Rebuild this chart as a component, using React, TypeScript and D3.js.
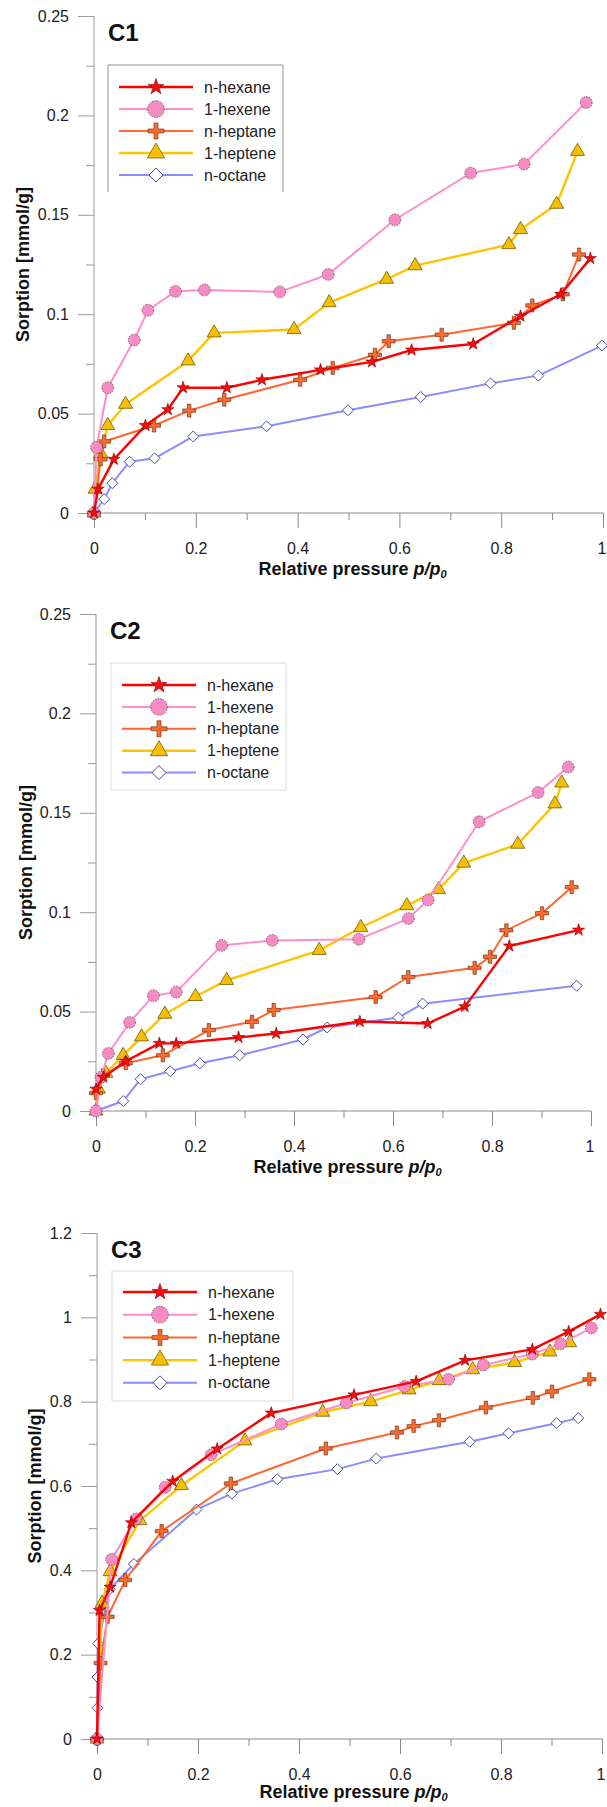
import React, { useEffect, useRef } from 'react';
import * as d3 from 'd3';

// Nomi delle serie (ordine della legenda)
const seriesNames = ['n-hexane', '1-hexene', 'n-heptane', '1-heptene', 'n-octane'];

// Pannello C1
const c1HexaneX = [0, 0.008, 0.039, 0.101, 0.145, 0.175, 0.261, 0.33, 0.445, 0.546, 0.624, 0.745, 0.838, 0.917, 0.975];
const c1HexaneY = [0, 0.012, 0.027, 0.044, 0.052, 0.063, 0.063, 0.067, 0.072, 0.076, 0.082, 0.085, 0.099, 0.11, 0.128];
const c1HexeneX = [0, 0.005, 0.027, 0.079, 0.106, 0.16, 0.217, 0.365, 0.46, 0.591, 0.74, 0.845, 0.967];
const c1HexeneY = [0, 0.033, 0.063, 0.087, 0.102, 0.1115, 0.1122, 0.1112, 0.12, 0.1475, 0.171, 0.1755, 0.2065];
const c1HeptaneX = [0, 0.013, 0.02, 0.118, 0.187, 0.256, 0.405, 0.469, 0.552, 0.579, 0.683, 0.825, 0.861, 0.921, 0.953];
const c1HeptaneY = [0, 0.027, 0.036, 0.044, 0.0515, 0.057, 0.067, 0.073, 0.0796, 0.0864, 0.0897, 0.0957, 0.1044, 0.11, 0.13];
const c1HepteneX = [0, 0.002, 0.013, 0.027, 0.062, 0.185, 0.236, 0.393, 0.462, 0.575, 0.631, 0.815, 0.838, 0.909, 0.95];
const c1HepteneY = [0, 0.012, 0.03, 0.044, 0.0547, 0.0765, 0.0906, 0.0923, 0.1058, 0.1176, 0.1244, 0.135, 0.1426, 0.1553, 0.1819];
const c1OctaneX = [0, 0.02, 0.036, 0.07, 0.119, 0.195, 0.339, 0.499, 0.642, 0.779, 0.873, 0.998];
const c1OctaneY = [0, 0.007, 0.015, 0.0258, 0.0275, 0.0385, 0.0436, 0.0517, 0.0584, 0.0652, 0.0691, 0.0842];

// Pannello C2
const c2HexaneX = [0, 0.015, 0.06, 0.128, 0.162, 0.288, 0.364, 0.533, 0.67, 0.745, 0.835, 0.975];
const c2HexaneY = [0.011, 0.017, 0.025, 0.034, 0.034, 0.037, 0.039, 0.045, 0.044, 0.0525, 0.083, 0.091];
const c2HexeneX = [0, 0.01, 0.025, 0.068, 0.116, 0.162, 0.254, 0.356, 0.531, 0.631, 0.671, 0.774, 0.893, 0.954];
const c2HexeneY = [0, 0.017, 0.029, 0.0446, 0.058, 0.0598, 0.0833, 0.0858, 0.0864, 0.0968, 0.1061, 0.1455, 0.1602, 0.173];
const c2HeptaneX = [0, 0.014, 0.06, 0.135, 0.228, 0.315, 0.359, 0.565, 0.631, 0.765, 0.796, 0.829, 0.901, 0.961];
const c2HeptaneY = [0.009, 0.018, 0.024, 0.028, 0.0407, 0.0449, 0.0508, 0.0573, 0.0674, 0.072, 0.0776, 0.0909, 0.0995, 0.1126];
const c2HepteneX = [0, 0.005, 0.02, 0.055, 0.092, 0.139, 0.201, 0.264, 0.451, 0.535, 0.628, 0.692, 0.743, 0.852, 0.927, 0.941];
const c2HepteneY = [0, 0.011, 0.019, 0.028, 0.0373, 0.0487, 0.0576, 0.0657, 0.0808, 0.0923, 0.1033, 0.1114, 0.1247, 0.1342, 0.1545, 0.165];
const c2OctaneX = [0, 0.055, 0.09, 0.15, 0.21, 0.29, 0.418, 0.467, 0.611, 0.66, 0.971];
const c2OctaneY = [0, 0.005, 0.016, 0.02, 0.024, 0.028, 0.036, 0.042, 0.047, 0.054, 0.063];

// Pannello C3
const c3HexaneX = [0, 0.005, 0.026, 0.068, 0.15, 0.238, 0.345, 0.509, 0.632, 0.729, 0.862, 0.934, 0.997];
const c3HexaneY = [0, 0.305, 0.36, 0.513, 0.611, 0.688, 0.773, 0.816, 0.848, 0.898, 0.924, 0.966, 1.007];
const c3HexeneX = [0, 0.029, 0.077, 0.135, 0.226, 0.365, 0.494, 0.609, 0.696, 0.765, 0.862, 0.918, 0.979];
const c3HexeneY = [0, 0.426, 0.522, 0.597, 0.674, 0.747, 0.797, 0.836, 0.853, 0.887, 0.913, 0.937, 0.975];
const c3HeptaneX = [0, 0.007, 0.021, 0.056, 0.128, 0.265, 0.453, 0.594, 0.627, 0.677, 0.77, 0.863, 0.901, 0.975];
const c3HeptaneY = [0, 0.18, 0.29, 0.377, 0.493, 0.606, 0.689, 0.727, 0.742, 0.756, 0.786, 0.809, 0.824, 0.853];
const c3HepteneX = [0, 0.01, 0.026, 0.085, 0.167, 0.293, 0.447, 0.542, 0.618, 0.678, 0.744, 0.827, 0.897, 0.936];
const c3HepteneY = [0, 0.322, 0.397, 0.518, 0.601, 0.707, 0.775, 0.8, 0.828, 0.85, 0.876, 0.893, 0.918, 0.94];
const c3OctaneX = [0, 0.001, 0.001, 0.002, 0.025, 0.073, 0.197, 0.267, 0.357, 0.476, 0.553, 0.738, 0.815, 0.91, 0.953];
const c3OctaneY = [0, 0.074, 0.147, 0.226, 0.355, 0.415, 0.544, 0.582, 0.616, 0.64, 0.665, 0.705, 0.725, 0.749, 0.761];

// Tacche
const xTicks = [0, 0.2, 0.4, 0.6, 0.8, 1];
const xMinor = [0.1, 0.3, 0.5, 0.7, 0.9];
const yTicksLow = [0, 0.05, 0.1, 0.15, 0.2, 0.25];
const yMinorLow = [0.025, 0.075, 0.125, 0.175, 0.225];
const yTicksHigh = [0, 0.2, 0.4, 0.6, 0.8, 1, 1.2];
const yMinorHigh = [0.1, 0.3, 0.5, 0.7, 0.9, 1.1];

const panelData = [
  { label: 'C1', yMax: 0.25, yTicks: yTicksLow, yMinor: yMinorLow,
    series: [[c1HexaneX, c1HexaneY], [c1HexeneX, c1HexeneY], [c1HeptaneX, c1HeptaneY], [c1HepteneX, c1HepteneY], [c1OctaneX, c1OctaneY]] },
  { label: 'C2', yMax: 0.25, yTicks: yTicksLow, yMinor: yMinorLow,
    series: [[c2HexaneX, c2HexaneY], [c2HexeneX, c2HexeneY], [c2HeptaneX, c2HeptaneY], [c2HepteneX, c2HepteneY], [c2OctaneX, c2OctaneY]] },
  { label: 'C3', yMax: 1.2, yTicks: yTicksHigh, yMinor: yMinorHigh,
    series: [[c3HexaneX, c3HexaneY], [c3HexeneX, c3HexeneY], [c3HeptaneX, c3HeptaneY], [c3HepteneX, c3HepteneY], [c3OctaneX, c3OctaneY]] },
];

// Posizioni dei pannelli (pixel)
const frames = [
  { left: 94, right: 603, top: 16, bottom: 513, yTitleX: 23, xTitleDy: 62,
    legend: { x: 108, y: 65, w: 175, h: 127, first: 22, step: 22, border: '#8f8f8f', open: true } },
  { left: 96, right: 591, top: 614, bottom: 1111, yTitleX: 26, xTitleDy: 62,
    legend: { x: 111, y: 663, w: 175, h: 127, first: 22, step: 21.9, border: '#dddddd', open: false } },
  { left: 97, right: 602, top: 1233, bottom: 1739, yTitleX: 35, xTitleDy: 59,
    legend: { x: 112, y: 1271, w: 181, h: 130, first: 21, step: 22.7, border: '#dddddd', open: false } },
];

// Stili delle serie
const seriesStyles = [
  { kind: 'star', line: '#ff0000', width: 2.4, fill: '#ff0a0a', stroke: '#7a0000', sw: 0.6, dash: '' },
  { kind: 'circle', line: '#ff8fc8', width: 2, fill: '#f78bc3', stroke: '#6e4358', sw: 0.8, dash: '1.5,1.2' },
  { kind: 'plus', line: '#ff6633', width: 2, fill: '#ff6b2c', stroke: '#5b2a12', sw: 0.6, dash: '' },
  { kind: 'triangle', line: '#ffc400', width: 2.4, fill: '#f6c000', stroke: '#5e4a00', sw: 0.7, dash: '' },
  { kind: 'diamond', line: '#8c8cff', width: 2, fill: '#ffffff', stroke: '#4c4ca8', sw: 1, dash: '' },
];

const FONT = "'Liberation Sans', Arial, Helvetica, sans-serif";

const markerPath = (kind: string, big: boolean): string => {
  switch (kind) {
    case 'star':
      return d3.symbol(d3.symbolStar, big ? 80 : 46)() || '';
    case 'circle':
      return d3.symbol(d3.symbolCircle, big ? 220 : 110)() || '';
    case 'plus': {
      const s = big ? 8 : 6.5;
      const t = big ? 2 : 1.7;
      return `M${-t},${-s}H${t}V${-t}H${s}V${t}H${t}V${s}H${-t}V${t}H${-s}V${-t}H${-t}Z`;
    }
    case 'triangle':
      return d3.symbol(d3.symbolTriangle, big ? 130 : 85)() || '';
    default: {
      const r = big ? 7 : 5.5;
      return `M0,${-r}L${r},0L0,${r}L${-r},0Z`;
    }
  }
};

const App: React.FC = () => {
  const chartRef = useRef<SVGSVGElement>(null);

  useEffect(() => {
    const svg = d3.select(chartRef.current);
    svg.selectAll('*').remove();

    panelData.forEach((panel, pi) => {
      const f = frames[pi];
      const g = svg.append('g');

      const xScale = d3.scaleLinear().domain([0, 1]).range([f.left, f.right]);
      const yScale = d3.scaleLinear().domain([0, panel.yMax]).range([f.bottom, f.top]);

      // Asse Y
      const yAxis = g.append('g')
        .attr('transform', `translate(${f.left},0)`)
        .call(d3.axisLeft(yScale).tickValues(panel.yTicks).tickSize(16).tickPadding(9).tickFormat((d) => String(d)));
      yAxis.select('.domain').remove();
      yAxis.selectAll('line').attr('stroke', '#9a9a9a');
      yAxis.selectAll('text').attr('font-family', FONT).attr('font-size', 16).attr('fill', '#222');

      const yMinorAxis = g.append('g')
        .attr('transform', `translate(${f.left},0)`)
        .call(d3.axisLeft(yScale).tickValues(panel.yMinor).tickSize(8).tickFormat(() => ''));
      yMinorAxis.select('.domain').remove();
      yMinorAxis.selectAll('line').attr('stroke', '#9a9a9a');

      // Asse X
      const xAxis = g.append('g')
        .attr('transform', `translate(0,${f.bottom})`)
        .call(d3.axisBottom(xScale).tickValues(xTicks).tickSize(15).tickPadding(15).tickFormat((d) => String(d)));
      xAxis.select('.domain').remove();
      xAxis.selectAll('line').attr('stroke', '#8a8a8a');
      xAxis.selectAll('text').attr('font-family', FONT).attr('font-size', 16).attr('fill', '#222');
      // l'ultima etichetta resta dentro il bordo destro
      xAxis.selectAll<SVGTextElement, number>('text')
        .filter((d) => d === 1)
        .attr('text-anchor', 'end')
        .attr('x', 3);

      const xMinorAxis = g.append('g')
        .attr('transform', `translate(0,${f.bottom})`)
        .call(d3.axisBottom(xScale).tickValues(xMinor).tickSize(7).tickFormat(() => ''));
      xMinorAxis.select('.domain').remove();
      xMinorAxis.selectAll('line').attr('stroke', '#8a8a8a');

      g.append('line')
        .attr('x1', f.left).attr('x2', f.left)
        .attr('y1', f.top).attr('y2', f.bottom)
        .attr('stroke', '#9a9a9a');
      g.append('line')
        .attr('x1', f.left).attr('x2', f.right)
        .attr('y1', f.bottom).attr('y2', f.bottom)
        .attr('stroke', '#8a8a8a');

      // Titoli assi
      g.append('text')
        .attr('transform', `translate(${f.yTitleX},${(f.top + f.bottom) / 2}) rotate(-90)`)
        .attr('text-anchor', 'middle')
        .attr('dy', '0.35em')
        .attr('font-family', FONT)
        .attr('font-size', 18)
        .attr('font-weight', 'bold')
        .attr('fill', '#111')
        .text('Sorption [mmol/g]');

      const xt = g.append('text')
        .attr('x', (f.left + f.right) / 2 + 4)
        .attr('y', f.bottom + f.xTitleDy)
        .attr('text-anchor', 'middle')
        .attr('font-family', FONT)
        .attr('font-size', 18)
        .attr('font-weight', 'bold')
        .attr('fill', '#111');
      xt.append('tspan').text('Relative pressure ');
      xt.append('tspan').attr('font-style', 'italic').text('p/p');
      xt.append('tspan').attr('font-style', 'italic').attr('font-size', 11).attr('dy', 3).text('0');

      // Etichetta del pannello
      g.append('text')
        .attr('x', f.left + 14)
        .attr('y', f.top + 25)
        .attr('font-family', FONT)
        .attr('font-size', 24)
        .attr('font-weight', 'bold')
        .attr('fill', '#111')
        .text(panel.label);

      // Serie: linee e marcatori (n-octane sotto, n-hexane sopra)
      const line = d3.line<[number, number]>()
        .x((d) => xScale(d[0]))
        .y((d) => yScale(d[1]));

      for (let si = panel.series.length - 1; si >= 0; si--) {
        const [xs, ys] = panel.series[si];
        const st = seriesStyles[si];
        const pts = d3.zip(xs, ys) as [number, number][];

        g.append('path')
          .datum(pts)
          .attr('d', line)
          .attr('fill', 'none')
          .attr('stroke', st.line)
          .attr('stroke-width', st.width)
          .attr('stroke-linejoin', 'round');

        g.selectAll(null)
          .data(pts)
          .enter()
          .append('path')
          .attr('d', markerPath(st.kind, false))
          .attr('transform', (d) => `translate(${xScale(d[0])},${yScale(d[1])})`)
          .attr('fill', st.fill)
          .attr('stroke', st.stroke)
          .attr('stroke-width', st.sw)
          .attr('stroke-dasharray', st.dash || null);
      }

      // Legenda
      const L = f.legend;
      const lg = g.append('g').attr('transform', `translate(${L.x},${L.y})`);
      lg.append('rect')
        .attr('width', L.w).attr('height', L.h)
        .attr('fill', '#fff')
        .attr('stroke', L.open ? 'none' : L.border);
      if (L.open) {
        lg.append('path')
          .attr('d', `M0,${L.h}V0H${L.w}V${L.h}`)
          .attr('fill', 'none')
          .attr('stroke', L.border);
      }
      seriesNames.forEach((name, i) => {
        const st = seriesStyles[i];
        const ry = L.first + i * L.step;
        lg.append('line')
          .attr('x1', 11).attr('x2', 85)
          .attr('y1', ry).attr('y2', ry)
          .attr('stroke', st.line)
          .attr('stroke-width', st.width);
        lg.append('path')
          .attr('d', markerPath(st.kind, true))
          .attr('transform', `translate(48,${ry})`)
          .attr('fill', st.fill)
          .attr('stroke', st.stroke)
          .attr('stroke-width', st.sw)
          .attr('stroke-dasharray', st.dash || null);
        lg.append('text')
          .attr('x', 96).attr('y', ry)
          .attr('dy', '0.35em')
          .attr('font-family', FONT)
          .attr('font-size', 16)
          .attr('fill', '#222')
          .text(name);
      });
    });
  }, []);

  return (
    <svg
      ref={chartRef}
      width={607}
      height={1807}
      style={{ position: 'absolute', left: 0, top: 0, background: '#fff' }}
    />
  );
};

export default App;
